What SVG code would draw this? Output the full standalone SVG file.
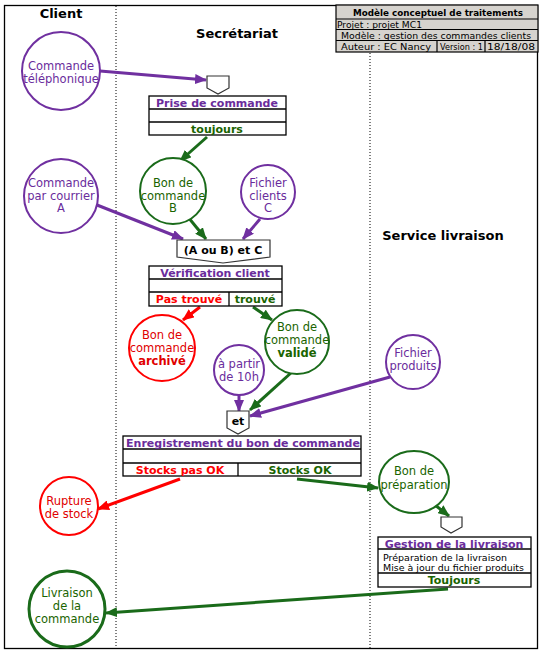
<svg xmlns="http://www.w3.org/2000/svg" width="544" height="654" viewBox="0 0 544 654">
<style>
text{font-family:"DejaVu Sans",Verdana,sans-serif;}
.ttl{font-size:13px;font-weight:bold;fill:#000;text-anchor:middle;}
.ct{font-size:11.5px;text-anchor:middle;}
.pu{fill:#6a2c9c;}
.gr{fill:#1a6400;}
.rd{fill:#e00000;}
.bt{font-size:11px;font-weight:bold;text-anchor:middle;}
.hd{font-size:9.5px;fill:#000;}
.box{fill:#fff;stroke:#000;stroke-width:1.3;}
.pent{fill:#fff;stroke:#333;stroke-width:1.2;}
.cp{fill:#fff;stroke:#7030a0;stroke-width:2;}
.cg{fill:#fff;stroke:#1a6b1a;stroke-width:2;}
.cr{fill:#fff;stroke:#ff0000;stroke-width:2;}
.lp{stroke:#7030a0;stroke-width:3;fill:none;marker-end:url(#ap);}
.lg{stroke:#1a6b1a;stroke-width:3;fill:none;marker-end:url(#ag);}
.lr{stroke:#ff0000;stroke-width:3;fill:none;marker-end:url(#ar);}
.dot{stroke:#000;stroke-width:1;stroke-dasharray:1,2;}
</style>
<defs>
<marker id="ap" markerUnits="userSpaceOnUse" markerWidth="12" markerHeight="10" refX="11" refY="5" orient="auto"><path d="M0,0 L12,5 L0,10 z" fill="#7030a0"/></marker>
<marker id="ag" markerUnits="userSpaceOnUse" markerWidth="12" markerHeight="10" refX="11" refY="5" orient="auto"><path d="M0,0 L12,5 L0,10 z" fill="#1a6b1a"/></marker>
<marker id="ar" markerUnits="userSpaceOnUse" markerWidth="12" markerHeight="10" refX="11" refY="5" orient="auto"><path d="M0,0 L12,5 L0,10 z" fill="#ff0000"/></marker>
</defs>
<rect width="544" height="654" fill="#fff"/>
<rect x="4.5" y="5.5" width="533" height="643" fill="none" stroke="#000" stroke-width="1.3"/>
<line class="dot" x1="116" y1="6" x2="116" y2="648"/>
<line class="dot" x1="370" y1="53" x2="370" y2="648"/>

<g id="header">
<rect x="336" y="5" width="202" height="47" fill="#d6d3ce" stroke="#000" stroke-width="1.2"/>
<line x1="336" y1="19" x2="538" y2="19" stroke="#000" stroke-width="1.2"/>
<line x1="336" y1="29.5" x2="538" y2="29.5" stroke="#000" stroke-width="1.2"/>
<line x1="336" y1="40.5" x2="538" y2="40.5" stroke="#000" stroke-width="1.2"/>
<line x1="437" y1="40.5" x2="437" y2="52" stroke="#000" stroke-width="1.2"/>
<line x1="485" y1="40.5" x2="485" y2="52" stroke="#000" stroke-width="1.2"/>
<text x="438" y="15.5" font-size="9.5" font-weight="bold" text-anchor="middle" textLength="170" lengthAdjust="spacingAndGlyphs">Modèle conceptuel  de traitements</text>
<text class="hd" x="337" y="27.5" textLength="85" lengthAdjust="spacingAndGlyphs">Projet : projet MC1</text>
<text class="hd" x="341" y="38.5" textLength="190" lengthAdjust="spacingAndGlyphs">Modèle : gestion des commandes clients</text>
<text class="hd" x="341" y="49.5" textLength="90" lengthAdjust="spacingAndGlyphs">Auteur : EC Nancy</text>
<text class="hd" x="440" y="49.5" textLength="43" lengthAdjust="spacingAndGlyphs">Version : 1</text>
<text class="hd" x="487" y="49.5" textLength="48" lengthAdjust="spacingAndGlyphs">18/18/08</text>
</g>

<g id="titles">
<text class="ttl" x="61" y="18">Client</text>
<text class="ttl" x="237" y="38">Secrétariat</text>
<text class="ttl" x="443" y="240">Service livraison</text>
</g>

<g id="connectors">
<line class="lp" x1="100" y1="71" x2="206" y2="80"/>
<line class="lg" x1="207" y1="137" x2="180" y2="161"/>
<line class="lp" x1="97" y1="205" x2="183" y2="239"/>
<line class="lg" x1="188" y1="217" x2="206" y2="239"/>
<line class="lp" x1="260" y1="219" x2="243" y2="239"/>
<line class="lr" x1="200" y1="307" x2="183" y2="320"/>
<line class="lg" x1="253" y1="307" x2="272" y2="320"/>
<line class="lg" x1="292" y1="372" x2="250" y2="410"/>
<line class="lp" x1="239" y1="395" x2="239" y2="411"/>
<line class="lp" x1="390" y1="377" x2="250" y2="416"/>
<line class="lr" x1="180" y1="479" x2="98" y2="509"/>
<line class="lg" x1="297" y1="479" x2="378" y2="488"/>
<line class="lg" x1="435" y1="505" x2="449" y2="516"/>
<line class="lg" x1="448" y1="589" x2="106" y2="613"/>
</g>

<g id="commande-telephonique">
<circle class="cp" cx="61" cy="71" r="39"/>
<text class="ct pu" x="61" y="70">Commande</text>
<text class="ct pu" x="61" y="83">téléphonique</text>
</g>

<g id="evt-prise">
<polygon class="pent" points="207,76 229,76 229,88 218,94 207,88"/>
</g>

<g id="prise-de-commande">
<rect class="box" x="149" y="96" width="137" height="39"/>
<line x1="149" y1="109" x2="286" y2="109" stroke="#000" stroke-width="1.3"/>
<line x1="149" y1="122" x2="286" y2="122" stroke="#000" stroke-width="1.3"/>
<text class="bt pu" x="217" y="106.5">Prise de commande</text>
<text class="bt gr" x="217" y="132.5">toujours</text>
</g>

<g id="commande-courrier">
<circle class="cp" cx="61" cy="196" r="37"/>
<text class="ct pu" x="61" y="187">Commande</text>
<text class="ct pu" x="61" y="199.5">par courrier</text>
<text class="ct pu" x="61" y="212">A</text>
</g>

<g id="bon-commande-b">
<circle class="cg" cx="173" cy="191" r="33"/>
<text class="ct gr" x="173" y="187">Bon de</text>
<text class="ct gr" x="173" y="199.5">commande</text>
<text class="ct gr" x="173" y="212">B</text>
</g>

<g id="fichier-clients">
<circle class="cp" cx="268" cy="192" r="27"/>
<text class="ct pu" x="268" y="187">Fichier</text>
<text class="ct pu" x="268" y="199.5">clients</text>
<text class="ct pu" x="268" y="212">C</text>
</g>

<g id="evt-verif">
<polygon class="pent" points="177,240 270,240 270,257 223,263 177,257"/>
<text class="bt" x="223" y="254" fill="#000">(A ou B) et C</text>
</g>

<g id="verification-client">
<rect class="box" x="149" y="266" width="133" height="40"/>
<line x1="149" y1="279" x2="282" y2="279" stroke="#000" stroke-width="1.3"/>
<line x1="149" y1="292" x2="282" y2="292" stroke="#000" stroke-width="1.3"/>
<line x1="229" y1="292" x2="229" y2="306" stroke="#000" stroke-width="1.3"/>
<text class="bt pu" x="215" y="276.5">Vérification client</text>
<text class="bt" x="189" y="303" fill="#ff0000">Pas trouvé</text>
<text class="bt gr" x="255" y="303">trouvé</text>
</g>

<g id="bon-archive">
<circle class="cr" cx="162" cy="348" r="33"/>
<text class="ct rd" x="162" y="339">Bon de</text>
<text class="ct rd" x="162" y="352">commande</text>
<text class="ct rd" x="162" y="364.5" font-weight="bold">archivé</text>
</g>

<g id="bon-valide">
<circle class="cg" cx="297" cy="342" r="32"/>
<text class="ct gr" x="297" y="331">Bon de</text>
<text class="ct gr" x="297" y="344">commande</text>
<text class="ct gr" x="297" y="357" font-weight="bold">validé</text>
</g>

<g id="a-partir-10h">
<circle class="cp" cx="239" cy="370" r="25"/>
<text class="ct pu" x="239" y="368">à partir</text>
<text class="ct pu" x="239" y="381">de 10h</text>
</g>

<g id="fichier-produits">
<circle class="cp" cx="413" cy="362" r="27"/>
<text class="ct pu" x="413" y="357">Fichier</text>
<text class="ct pu" x="413" y="370">produits</text>
</g>

<g id="evt-et">
<polygon class="pent" points="227,411 249,411 249,428 238,434 227,428"/>
<text class="bt" x="238" y="425" fill="#000">et</text>
</g>

<g id="enregistrement">
<rect class="box" x="123" y="436" width="238" height="40"/>
<line x1="123" y1="449" x2="361" y2="449" stroke="#000" stroke-width="1.3"/>
<line x1="123" y1="463" x2="361" y2="463" stroke="#000" stroke-width="1.3"/>
<line x1="238" y1="463" x2="238" y2="476" stroke="#000" stroke-width="1.3"/>
<text class="bt pu" x="243" y="446.5">Enregistrement du bon de commande</text>
<text class="bt" x="180" y="473.5" fill="#ff0000">Stocks pas OK</text>
<text class="bt gr" x="300" y="473.5">Stocks OK</text>
</g>

<g id="rupture-stock">
<circle class="cr" cx="69" cy="506" r="29"/>
<text class="ct rd" x="69" y="505">Rupture</text>
<text class="ct rd" x="69" y="517.5">de stock</text>
</g>

<g id="bon-preparation">
<ellipse class="cg" cx="414" cy="482" rx="35" ry="31"/>
<text class="ct gr" x="414" y="475">Bon de</text>
<text class="ct gr" x="414" y="489">préparation</text>
</g>

<g id="evt-gestion">
<polygon class="pent" points="441,517 462,517 462,527 451,533 441,527"/>
</g>

<g id="gestion-livraison">
<rect class="box" x="378" y="537" width="153" height="50"/>
<line x1="378" y1="549" x2="531" y2="549" stroke="#000" stroke-width="1.3"/>
<line x1="378" y1="573" x2="531" y2="573" stroke="#000" stroke-width="1.3"/>
<text class="bt pu" x="454" y="547.5">Gestion de la livraison</text>
<text x="383" y="560.5" font-size="9.5" fill="#000" textLength="124" lengthAdjust="spacingAndGlyphs">Préparation de la livraison</text>
<text x="383" y="570.5" font-size="9.5" fill="#000" textLength="141" lengthAdjust="spacingAndGlyphs">Mise à jour du fichier produits</text>
<text class="bt gr" x="454" y="584">Toujours</text>
</g>

<g id="livraison-commande">
<circle cx="67" cy="609" r="38" fill="#fff" stroke="#1a6b1a" stroke-width="3"/>
<text class="ct gr" x="67" y="597">Livraison</text>
<text class="ct gr" x="67" y="610">de la</text>
<text class="ct gr" x="67" y="623">commande</text>
</g>
</svg>
